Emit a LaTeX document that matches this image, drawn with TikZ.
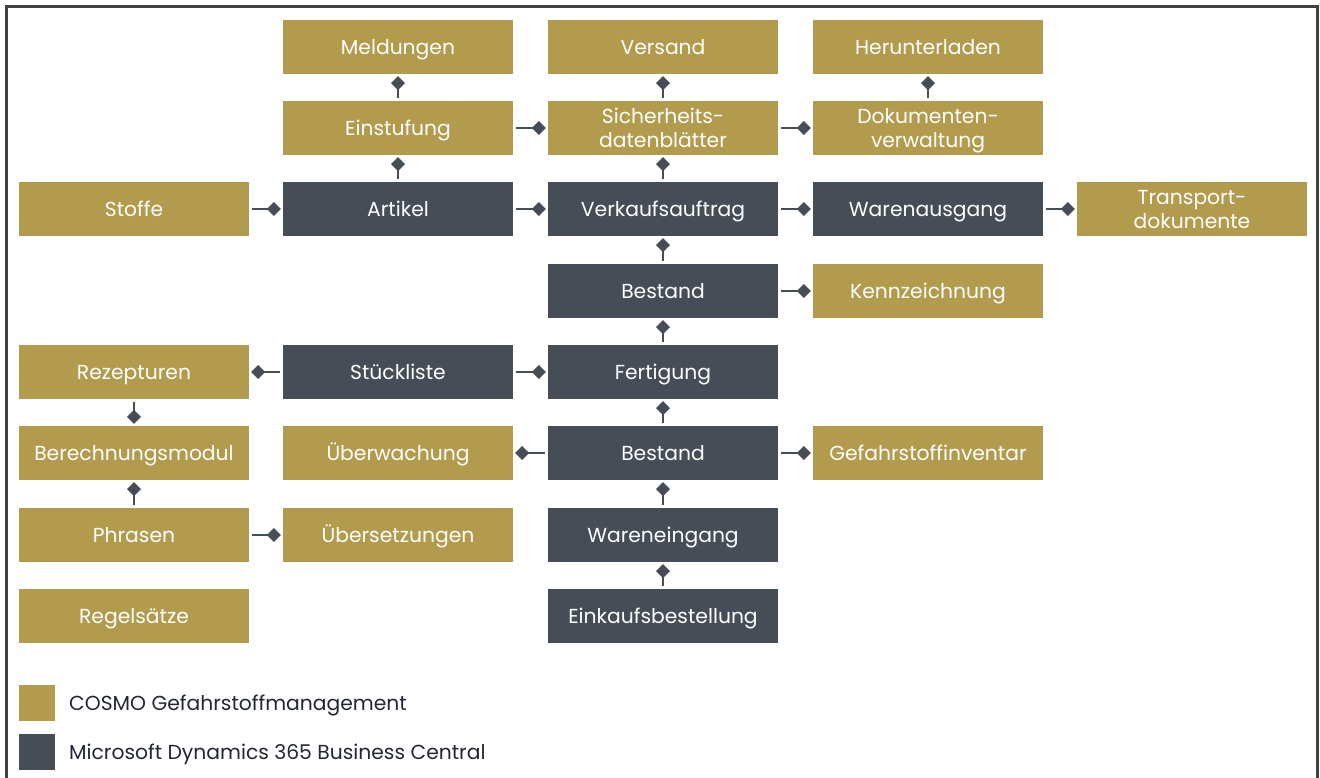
\documentclass[tikz,border=0pt]{standalone}
\usepackage{fontspec}
\setmainfont{Poppins}
\usetikzlibrary{arrows.meta}
\definecolor{gold}{HTML}{B39B4D}
\definecolor{slate}{HTML}{464D57}
\definecolor{frame}{HTML}{404040}
\definecolor{legtext}{HTML}{232733}
\tikzset{
  box/.style={minimum width=230pt, minimum height=54pt, inner sep=0pt, text=white,
    font=\fontsize{20.3}{24}\selectfont, align=center},
  oneline/.style={text height=14.5pt, text depth=0pt},
  twoline/.style={text height=38.5pt, text depth=0pt},
  cosmo/.style={box, oneline, fill=gold},
  msbc/.style={box, oneline, fill=slate},
  cosmoml/.style={box, twoline, fill=gold},
  conn/.style={draw=slate, line width=2.6pt, shorten <=3pt, shorten >=2pt,
    -{Diamond[length=14pt,width=14pt,line width=0pt]}},
  legsq/.style={minimum width=36pt, minimum height=36pt, inner sep=0pt},
  legtx/.style={anchor=west, text=legtext, font=\fontsize{20.3}{22}\selectfont,
    inner sep=0pt, text height=14.5pt, text depth=0pt}
}
\begin{document}
\begin{tikzpicture}[x=1pt,y=-1pt]
\useasboundingbox (0,0) rectangle (1320,778);
\begin{scope}
\clip (0,0) rectangle (1320,778);
\draw[frame, line width=2.6pt] (6.5,6.5) rectangle (1317.5,800);
\end{scope}
% row 1
\node[cosmo] (meld) at (398,47) {Meldungen};
\node[cosmo] (vers) at (663,47) {Versand};
\node[cosmo] (herun) at (928,47) {Herunterladen};
% row 2
\node[cosmo] (einst) at (398,128) {Einstufung};
\node[cosmoml] (sdb) at (663,128) {Sicherheits-\\datenblätter};
\node[cosmoml] (dokv) at (928,128) {Dokumenten-\\verwaltung};
% row 3
\node[cosmo] (stoffe) at (134,209) {Stoffe};
\node[msbc] (artikel) at (398,209) {Artikel};
\node[msbc] (vka) at (663,209) {Verkaufsauftrag};
\node[msbc] (wa) at (928,209) {Warenausgang};
\node[cosmoml] (transp) at (1192,209) {Transport-\\dokumente};
% row 4
\node[msbc] (best1) at (663,291) {Bestand};
\node[cosmo] (kennz) at (928,291) {Kennzeichnung};
% row 5
\node[cosmo] (rez) at (134,372) {Rezepturen};
\node[msbc] (stl) at (398,372) {Stückliste};
\node[msbc] (fert) at (663,372) {Fertigung};
% row 6
\node[cosmo] (ber) at (134,453) {Berechnungsmodul};
\node[cosmo] (ueberw) at (398,453) {Überwachung};
\node[msbc] (best2) at (663,453) {Bestand};
\node[cosmo] (gefinv) at (928,453) {Gefahrstoffinventar};
% row 7
\node[cosmo] (phr) at (134,535) {Phrasen};
\node[cosmo] (uebers) at (398,535) {Übersetzungen};
\node[msbc] (we) at (663,535) {Wareneingang};
% row 8
\node[cosmo] (regel) at (134,616) {Regelsätze};
\node[msbc] (ekb) at (663,616) {Einkaufsbestellung};
% connectors
\draw[conn] (einst) -- (meld);
\draw[conn] (sdb) -- (vers);
\draw[conn] (dokv) -- (herun);
\draw[conn] (einst) -- (sdb);
\draw[conn] (sdb) -- (dokv);
\draw[conn] (artikel) -- (einst);
\draw[conn] (vka) -- (sdb);
\draw[conn] (stoffe) -- (artikel);
\draw[conn] (artikel) -- (vka);
\draw[conn] (vka) -- (wa);
\draw[conn] (wa) -- (transp);
\draw[conn] (best1) -- (vka);
\draw[conn] (best1) -- (kennz);
\draw[conn] (fert) -- (best1);
\draw[conn] (stl) -- (rez);
\draw[conn] (stl) -- (fert);
\draw[conn] (rez) -- (ber);
\draw[conn] (best2) -- (fert);
\draw[conn] (best2) -- (ueberw);
\draw[conn] (best2) -- (gefinv);
\draw[conn] (phr) -- (ber);
\draw[conn] (we) -- (best2);
\draw[conn] (phr) -- (uebers);
\draw[conn] (ekb) -- (we);
% legend
\node[legsq, fill=gold] (lg1) at (37,703) {};
\node[legsq, fill=slate] (lg2) at (37,752) {};
\node[legtx] (lt1) at (69,703) {COSMO Gefahrstoffmanagement};
\node[legtx] (lt2) at (69,752) {Microsoft Dynamics 365 Business Central};
\end{tikzpicture}
\end{document}
